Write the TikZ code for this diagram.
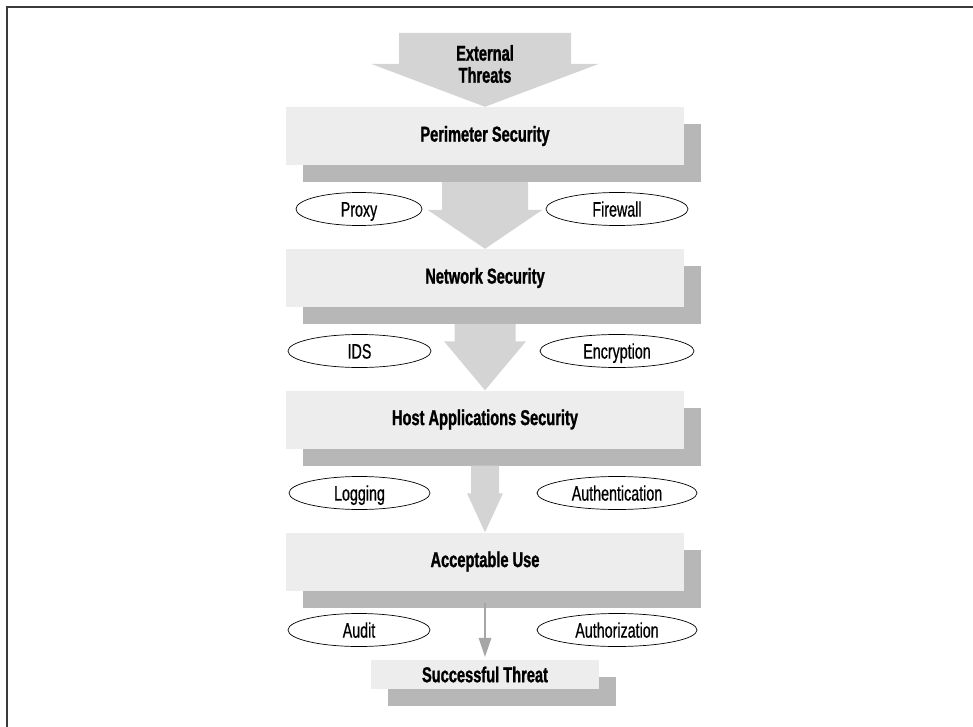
\documentclass[tikz,border=0pt]{standalone}
\usepackage{fontspec}
\setmainfont{Liberation Sans}[FakeStretch=0.68, BoldFeatures={FakeBold=1.2}]
\newfontfamily\ctrlfont{Liberation Sans}[FakeStretch=0.68, FakeBold=0.6]
\usetikzlibrary{shapes.geometric,calc,shadows}

\definecolor{boxfill}{HTML}{EDEDED}
\definecolor{boxshade}{HTML}{B7B7B7}
\definecolor{flowfill}{HTML}{D4D4D4}
\definecolor{thinflow}{HTML}{A6A6A6}
\definecolor{framecol}{HTML}{3A3A3A}

\tikzset{
  layer/.style={rectangle, fill=boxfill, inner sep=0pt,
    minimum width=398pt, minimum height=58pt,
    font=\bfseries\fontsize{21.5pt}{22pt}\selectfont,
    drop shadow={shadow xshift=17pt, shadow yshift=-17pt, fill=boxshade, opacity=1}},
  control/.style={ellipse, draw, line width=0.7pt, fill=white, inner sep=0pt,
    minimum height=33pt, text height=15.2pt, text depth=0pt,
    font=\ctrlfont\fontsize{21pt}{22pt}\selectfont},
  flow/.style={fill=flowfill},
}

\begin{document}
\begin{tikzpicture}[x=1pt, y=-1pt]
  \useasboundingbox (0,0) rectangle (973,727);

  % frame
  \draw[framecol, line width=2pt] (7,727) -- (7,7) -- (973,7);

  % security layers
  \node[layer] (per) at (485,136)   {Perimeter Security};
  \node[layer] (net) at (485,278)   {Network Security};
  \node[layer] (host) at (485,419.5) {Host Applications Security};
  \node[layer] (acc) at (485,561.5) {Acceptable Use};
  \node[layer, minimum width=228pt, minimum height=29pt] (suc) at (485,674.5) {Successful Threat};

  % incoming threats
  \coordinate (ext) at (485,33);
  \fill[flow] ($(ext)+(-86,0)$) -- ($(ext)+(86,0)$) -- ($(per.north)+(86,-43)$)
    -- ($(per.north)+(114,-43)$) -- (per.north) -- ($(per.north)+(-114,-43)$)
    -- ($(per.north)+(-86,-43)$) -- cycle;
  \node[font=\bfseries\fontsize{21.5pt}{22pt}\selectfont, align=center] (extlabel) at (485,64) {External\\Threats};

  % perimeter -> network
  \fill[flow] ($(per.south)+(-43,17)$) -- ($(per.south)+(43,17)$) -- ($(net.north)+(43,-39)$)
    -- ($(net.north)+(57.5,-39)$) -- (net.north) -- ($(net.north)+(-57.5,-39)$)
    -- ($(net.north)+(-43,-39)$) -- cycle;

  % network -> host
  \fill[flow] ($(net.south)+(-30.5,17)$) -- ($(net.south)+(30.5,17)$) -- ($(host.north)+(30.5,-49)$)
    -- ($(host.north)+(41,-49)$) -- (host.north) -- ($(host.north)+(-41,-49)$)
    -- ($(host.north)+(-30.5,-49)$) -- cycle;

  % host -> acceptable use
  \fill[flow] ($(host.south)+(-14,17)$) -- ($(host.south)+(14,17)$) -- ($(acc.north)+(14,-39)$)
    -- ($(acc.north)+(18,-39)$) -- (acc.north) -- ($(acc.north)+(-18,-39)$)
    -- ($(acc.north)+(-14,-39)$) -- cycle;

  % acceptable use -> successful threat
  \draw[thinflow, line width=1.8pt] ($(acc.south)+(0,12)$) -- ($(suc.north)+(0,-20)$);
  \fill[thinflow] ($(suc.north)+(-6.5,-22)$) -- ($(suc.north)+(6.5,-22)$) -- ($(suc.north)+(0,-3)$) -- cycle;

  % controls
  \node[control, minimum width=126pt] (proxy) at (359,209) {Proxy};
  \node[control, minimum width=142pt] (fw)    at (617,209) {Firewall};
  \node[control, minimum width=143pt] (ids)   at (359.5,351) {IDS};
  \node[control, minimum width=154pt] (enc)   at (617,351) {Encryption};
  \node[control, minimum width=141pt] (log)   at (359.5,493) {Logging};
  \node[control, minimum width=160pt] (authn) at (617,493) {Authentication};
  \node[control, minimum width=142pt] (audit) at (359,630) {Audit};
  \node[control, minimum width=160pt] (authz) at (617,630) {Authorization};
\end{tikzpicture}
\end{document}
